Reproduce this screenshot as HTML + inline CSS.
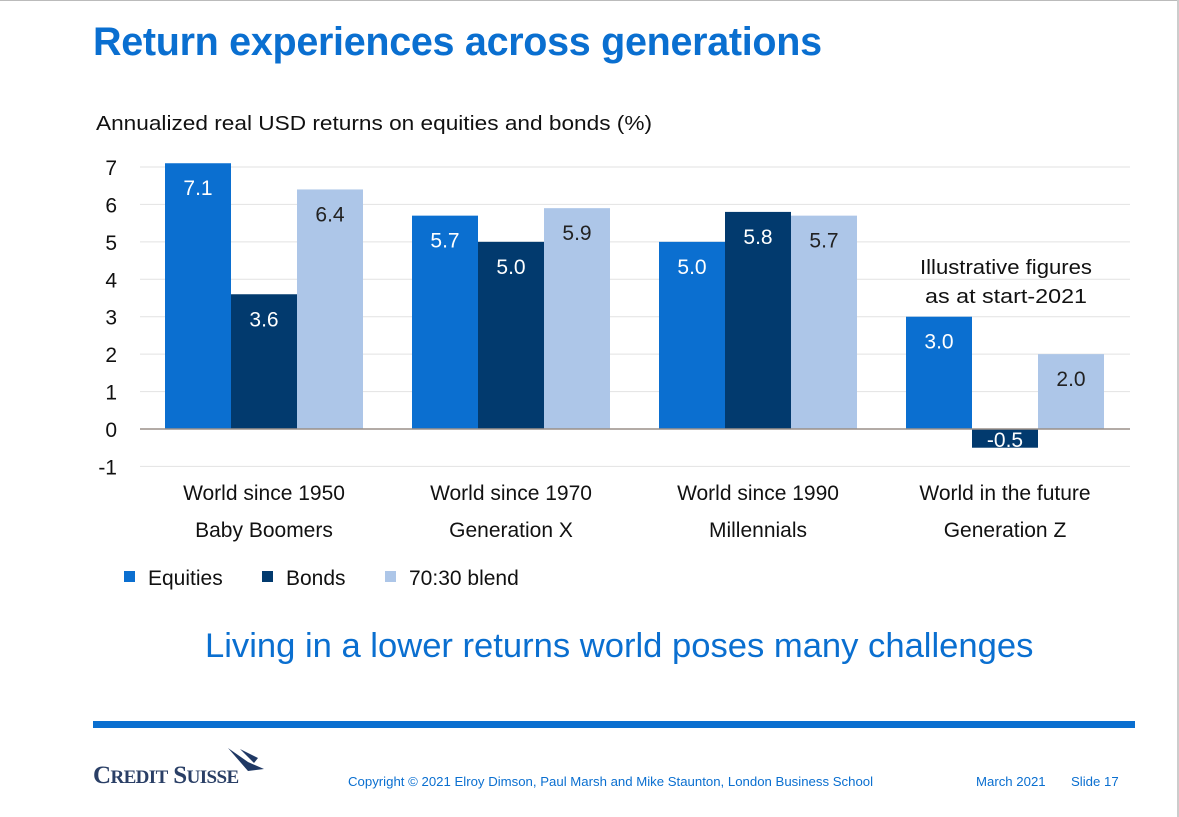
<!DOCTYPE html>
<html><head><meta charset="utf-8"><style>
body{margin:0;background:#fff;width:1179px;height:817px;overflow:hidden;font-family:"Liberation Sans",sans-serif;position:relative}
.abs{position:absolute;white-space:nowrap}
</style></head><body>
<div class="abs" style="left:0;top:0;width:1179px;height:1px;background:#bbb"></div>
<div class="abs" style="left:1177px;top:0;width:2px;height:817px;background:#ccc"></div>
<div class="abs" style="left:93px;top:20px;font-size:39.5px;font-weight:bold;color:#0a6fd0;letter-spacing:-0.3px">Return experiences across generations</div>
<svg class="abs" style="left:0;top:0" width="1179" height="817">
<g id="g"></g>
</svg>
<div class="abs" style="left:205px;top:627px;font-size:34.6px;color:#0a6fd0">Living in a lower returns world poses many challenges</div>
<div class="abs" style="left:93px;top:721px;width:1042px;height:7px;background:#0a6fd0"></div>
<div class="abs" style="left:93px;top:762px;font-family:'Liberation Serif',serif;font-size:25px;font-weight:bold;color:#2a3f66;letter-spacing:-0.6px">C<span style="font-size:19px">REDIT</span> S<span style="font-size:19px">UISSE</span></div>
<svg class="abs" style="left:226px;top:746px" width="40" height="32"><path d="M2,2 L22,25 L38,23 L22,16 Z M14,3 L28,17 L32,12 Z" fill="#1f3864"/></svg>
<div class="abs" style="left:348px;top:774px;font-size:13.2px;color:#0a6fd0">Copyright © 2021 Elroy Dimson, Paul Marsh and Mike Staunton, London Business School</div>
<div class="abs" style="left:976px;top:774px;font-size:13.2px;color:#0a6fd0">March 2021</div>
<div class="abs" style="left:1071px;top:774px;font-size:13.2px;color:#0a6fd0">Slide 17</div>
<script>
const categories1=["World since 1950","World since 1970","World since 1990","World in the future"];
const categories2=["Baby Boomers","Generation X","Millennials","Generation Z"];
const seriesNames=["Equities","Bonds","70:30 blend"];
const equities=[7.1,5.7,5.0,3.0];
const bonds=[3.6,5.0,5.8,-0.5];
const blend=[6.4,5.9,5.7,2.0];
const yTicks=[7,6,5,4,3,2,1,0,-1];
const colors=["#0b6fd0","#023a6e","#adc6e8"];
const labelColors=["#fff","#fff","#222"];
const NS="http://www.w3.org/2000/svg";
const g=document.getElementById('g');
function y(v){return 429-v*37.43;}
function gx(i){return 165+i*247;}
const bw=66;
function mk(tag,attrs,txt){const e=document.createElementNS(NS,tag);for(const k in attrs)e.setAttribute(k,attrs[k]);if(txt!==undefined)e.textContent=txt;g.appendChild(e);return e;}
let t=mk('text',{x:96,y:130,'font-size':20,fill:'#111',textLength:556,lengthAdjust:'spacingAndGlyphs'},'Annualized real USD returns on equities and bonds (%)');


yTicks.forEach(v=>{
 if(v!==0){const l=mk('line',{x1:140,x2:1130,y1:y(v),y2:y(v),stroke:'#e2e2e2','stroke-width':1});
 
 }
 const tx=mk('text',{x:117,y:y(v)+8,'font-size':21,fill:'#111','text-anchor':'end'},String(v));
 
 
});
const series=[equities,bonds,blend];
series.forEach((s,si)=>{
 s.forEach((v,i)=>{
  const x=gx(i)+si*bw;
  const top=Math.min(y(v),y(0)),h=Math.abs(y(v)-y(0));
  const r=mk('rect',{x:x,y:top,width:bw,height:h,fill:colors[si]});
  
  
  const ly=v>=0?y(v)+32:y(0)+18;
  const lt=mk('text',{x:x+bw/2,y:ly,'font-size':21,fill:labelColors[si],'text-anchor':'middle'},v.toFixed(1));
  
  
 });
});
const zl=mk('line',{x1:140,x2:1130,y1:y(0),y2:y(0),stroke:'#9a8f88','stroke-width':1.5});


categories1.forEach((c,i)=>{
 const cx=gx(i)+bw*1.5;
 const a=mk('text',{x:cx,y:500,'font-size':21,fill:'#111','text-anchor':'middle'},c);
 
 
 const b=mk('text',{x:cx,y:537,'font-size':21,fill:'#111','text-anchor':'middle'},categories2[i]);
 
 
});
const n1=mk('text',{x:1006,y:274,'font-size':20,fill:'#111','text-anchor':'middle',textLength:172,lengthAdjust:'spacingAndGlyphs'},'Illustrative figures');


const n2=mk('text',{x:1006,y:303,'font-size':20,fill:'#111','text-anchor':'middle',textLength:162,lengthAdjust:'spacingAndGlyphs'},'as at start-2021');


const lx=[124,262,385];
seriesNames.forEach((n,i)=>{
 const sq=mk('rect',{x:lx[i],y:571,width:11,height:11,fill:colors[i]});
 
 
 const lt=mk('text',{x:lx[i]+24,y:585,'font-size':21,fill:'#111'},n);
 
 
});
</script>
</body></html>
